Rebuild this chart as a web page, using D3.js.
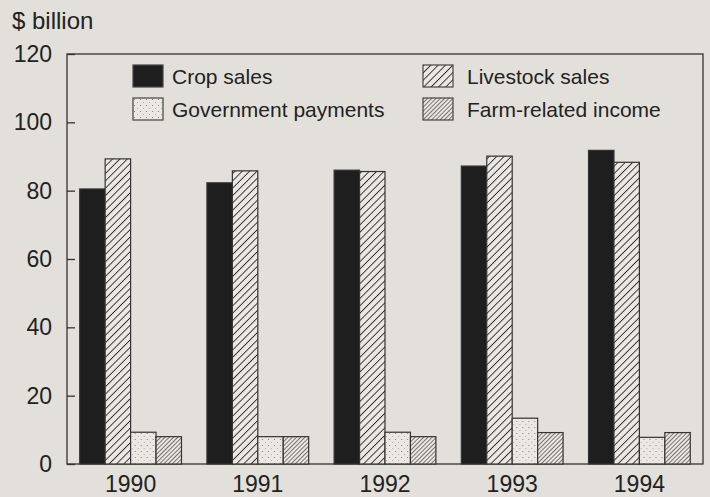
<!DOCTYPE html>
<html>
<head>
<meta charset="utf-8">
<script src="https://cdn.jsdelivr.net/npm/d3@7"></script>
<style>
  html, body { margin: 0; padding: 0; background: #e3e0db; }
  svg { display: block; }
  text { font-family: "Liberation Sans", Arial, sans-serif; fill: #222; }
</style>
</head>
<body>
<svg id="chart" width="710" height="497"></svg>
<script>
const years = ["1990", "1991", "1992", "1993", "1994"];
const seriesNames = ["Crop sales", "Livestock sales", "Government payments", "Farm-related income"];
const cropSales = [80.5, 82.3, 86.0, 87.2, 91.8];
const livestockSales = [89.3, 85.8, 85.6, 90.1, 88.3];
const governmentPayments = [9.3, 8.0, 9.3, 13.4, 7.8];
const farmRelatedIncome = [8.0, 8.0, 8.0, 9.2, 9.2];
const yTicks = [0, 20, 40, 60, 80, 100, 120];
const yLabel = "$ billion";

const seriesValues = [cropSales, livestockSales, governmentPayments, farmRelatedIncome];

const svg = d3.select("#chart");
const bg = "#e3e0db";
svg.append("rect").attr("width", 710).attr("height", 497).attr("fill", bg);

// patterns
const defs = svg.append("defs");
function hatch(id, spacing, sw, color) {
  const p = defs.append("pattern").attr("id", id).attr("patternUnits", "userSpaceOnUse")
    .attr("width", spacing).attr("height", spacing).attr("patternTransform", "rotate(45)");
  p.append("rect").attr("width", spacing).attr("height", spacing).attr("fill", "#ebe8e3");
  p.append("line").attr("x1", 0).attr("y1", 0).attr("x2", 0).attr("y2", spacing)
    .attr("stroke", color).attr("stroke-width", sw);
}
hatch("p-live", 5.2, 1.8, "#2a2a2a");
hatch("p-farm", 3, 1.3, "#333");
const dots = defs.append("pattern").attr("id", "p-gov").attr("patternUnits", "userSpaceOnUse")
  .attr("width", 6).attr("height", 6);
dots.append("rect").attr("width", 6).attr("height", 6).attr("fill", "#ebe7e2");
dots.append("circle").attr("cx", 1.5).attr("cy", 1.5).attr("r", 0.6).attr("fill", "#777");
dots.append("circle").attr("cx", 4.5).attr("cy", 4.5).attr("r", 0.5).attr("fill", "#999");

const fills = ["#1e1e1e", "url(#p-live)", "url(#p-gov)", "url(#p-farm)"];

const x0 = 67, x1 = 703, yTop = 54, yBot = 464;
const x = d3.scaleBand().domain(years).range([x0, x1]).paddingInner(0.2).paddingOuter(0.1);
const xs = d3.scaleBand().domain(seriesNames).range([0, x.bandwidth()]).padding(0);
const y = d3.scaleLinear().domain([0, 120]).range([yBot, yTop]);

// frame
svg.append("rect").attr("x", x0).attr("y", yTop).attr("width", x1 - x0).attr("height", yBot - yTop)
  .attr("fill", "none").attr("stroke", "#333").attr("stroke-width", 1.3);

// y axis
const yAxis = d3.axisLeft(y).tickValues(yTicks).tickSizeInner(-8).tickSizeOuter(0).tickPadding(15);
const ya = svg.append("g").attr("transform", `translate(${x0},0)`).call(yAxis);
ya.select(".domain").remove();
ya.selectAll(".tick line").attr("stroke", "#333").attr("stroke-width", 1.3);
ya.selectAll(".tick text").style("font-size", "23px").attr("fill", "#222")
  .style("font-family", '"Liberation Sans", Arial, sans-serif');

svg.append("text").attr("x", 12).attr("y", 29).style("font-size", "24px").text(yLabel);

// x axis labels
const xAxis = d3.axisBottom(x).tickSize(0).tickPadding(12);
const xa = svg.append("g").attr("transform", `translate(0,${yBot})`).call(xAxis);
xa.select(".domain").remove();
xa.selectAll(".tick text").style("font-size", "23px").attr("fill", "#222")
  .style("font-family", '"Liberation Sans", Arial, sans-serif');

// bars
const groups = svg.append("g").selectAll("g").data(years).join("g")
  .attr("transform", d => `translate(${x(d)},0)`);
groups.selectAll("rect").data((d, i) => seriesNames.map((s, j) => ({ s, j, v: seriesValues[j][i] })))
  .join("rect")
  .attr("x", d => xs(d.s))
  .attr("y", d => y(d.v))
  .attr("width", xs.bandwidth())
  .attr("height", d => y(0) - y(d.v))
  .attr("fill", d => fills[d.j])
  .attr("stroke", "#333").attr("stroke-width", 1.2);

// legend
const legendPos = [[133, 65], [423, 65], [133, 98], [423, 98]];
const legendOrder = [0, 1, 2, 3];
const lg = svg.append("g").selectAll("g").data(legendOrder).join("g")
  .attr("transform", (d, i) => `translate(${legendPos[i][0]},${legendPos[i][1]})`);
lg.append("rect").attr("width", 30).attr("height", 22)
  .attr("fill", d => fills[d]).attr("stroke", "#444").attr("stroke-width", 1.2);
lg.append("text").attr("x", d => d % 2 === 0 ? 39 : 44).attr("y", 11).attr("dy", "0.36em")
  .style("font-size", "21px").text(d => seriesNames[d]);
</script>
</body>
</html>
